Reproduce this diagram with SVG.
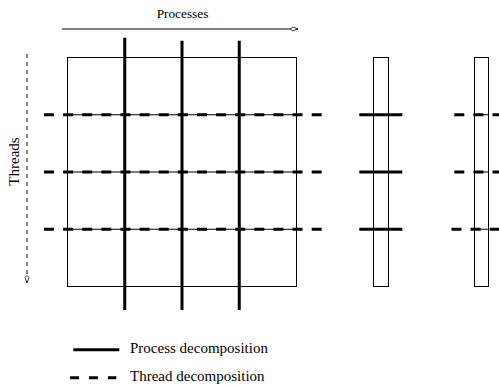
<svg xmlns="http://www.w3.org/2000/svg" width="499" height="385" viewBox="0 0 499 385">
<style>
.box{fill:none;stroke:#000;stroke-width:1}
.thin{stroke:#000;stroke-width:1}
.proc{stroke:#000;stroke-width:3;fill:none}
.thr{stroke:#000;stroke-width:3;stroke-dasharray:10 9.12;fill:none}
.axis{stroke:#000;stroke-width:1;fill:none}
.axisd{stroke:#000;stroke-width:1;stroke-dasharray:4 4;fill:none}
text{font-family:"Liberation Serif","Times New Roman",serif;fill:#000}
</style>
<defs>
<marker id="ah" markerWidth="10" markerHeight="8" refX="8" refY="4" orient="auto" markerUnits="userSpaceOnUse">
<path d="M0.5,4 L2.5,2 L8,4 L2.5,6 Z" fill="#fff" stroke="#000" stroke-width="0.8"/>
</marker>
</defs>
<g id="axes">
<line class="axis" x1="62" y1="29" x2="298" y2="29" marker-end="url(#ah)"/>
<text x="182.5" y="18.3" font-size="13.3" text-anchor="middle">Processes</text>
<line class="axisd" x1="27" y1="54" x2="27" y2="283" marker-end="url(#ah)"/>
<text transform="translate(19.3,161.5) rotate(-90)" font-size="15" text-anchor="middle">Threads</text>
</g>
<g id="grid">
<rect class="box" x="67.5" y="57.5" width="229" height="229"/>
<line class="thin" x1="67.5" y1="114.75" x2="296.5" y2="114.75"/>
<line class="thin" x1="67.5" y1="172" x2="296.5" y2="172"/>
<line class="thin" x1="67.5" y1="229.25" x2="296.5" y2="229.25"/>
</g>
<g id="column1">
<rect class="box" x="373.5" y="57.5" width="15" height="229"/>
</g>
<g id="column2">
<rect class="box" x="474.5" y="57.5" width="14" height="229"/>
<line class="thin" x1="474.5" y1="114.75" x2="488.5" y2="114.75"/>
<line class="thin" x1="474.5" y1="172" x2="488.5" y2="172"/>
<line class="thin" x1="474.5" y1="229.25" x2="488.5" y2="229.25"/>
</g>
<g id="connectors">
<line class="proc" x1="124.75" y1="37.7" x2="124.75" y2="310"/>
<line class="proc" x1="182" y1="40.7" x2="182" y2="310"/>
<line class="proc" x1="239.25" y1="40.7" x2="239.25" y2="310"/>
<line class="thr" x1="44" y1="114.75" x2="322" y2="114.75"/>
<line class="thr" x1="44" y1="172" x2="322" y2="172"/>
<line class="thr" x1="44" y1="229.25" x2="322" y2="229.25"/>
<line class="proc" x1="359.3" y1="114.75" x2="402.3" y2="114.75"/>
<line class="proc" x1="359.3" y1="172" x2="402.3" y2="172"/>
<line class="proc" x1="359.3" y1="229.25" x2="402.3" y2="229.25"/>
<line class="thr" x1="454.3" y1="114.75" x2="505" y2="114.75"/>
<line class="thr" x1="454.3" y1="172" x2="505" y2="172"/>
<line class="thr" x1="451.5" y1="229.25" x2="505" y2="229.25"/>
</g>
<g id="legend">
<line class="proc" x1="73.3" y1="349.7" x2="119.3" y2="349.7"/>
<text x="130" y="352.7" font-size="15">Process decomposition</text>
<line class="proc" x1="70" y1="377.7" x2="116.3" y2="377.7" style="stroke-dasharray:9 10"/>
<text x="130" y="380.7" font-size="15">Thread decomposition</text>
</g>
</svg>
